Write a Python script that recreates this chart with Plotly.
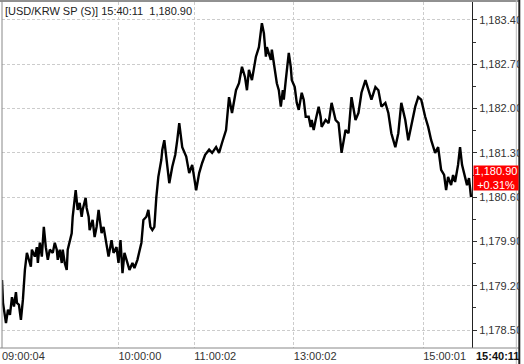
import plotly.graph_objects as go

# bar index (chart position) and price
bar_idx = [2,3,6,8,10,12,14,16,17,19,21,23,25,27,29,31,32,35,37,38,40,42,44,46,48,50,53,55,57,58,
           60,62,63,65,67,68,72,73,76,78,80,82,83,86,87,89,90,93,95,97,99,102,104,107,109,112,114,117,119,121,
           123,125,128,130,133,135,138,142,144,147,149,151,153,155,157,159,162,163,165,167,170,173,176,178,180,183,187,190,193,197,
           200,203,206,210,213,217,220,223,227,230,233,237,240,243,246,248,250,253,255,257,260,263,265,267,268,272,273,275,278,280,
           282,284,285,287,290,292,293,296,298,300,303,305,307,310,312,313,315,317,320,322,323,327,330,333,337,340,343,347,350,353,
           357,360,363,367,370,373,377,380,383,387,390,393,397,400,403,407,410,413,417,420,423,427,430,433,437,440,443,446,448,450,
           453,455,457,460,462,464,467,469,471,473]
price = [1179.29,1178.93,1178.61,1178.82,1178.74,1179.02,1178.87,1179.10,1178.93,1178.90,1178.66,1178.98,1179.45,1179.72,1179.61,1179.50,1179.77,1179.66,1179.81,1179.56,
         1179.88,1179.66,1180.13,1179.81,1179.61,1179.77,1179.72,1179.88,1179.77,1179.61,1179.77,1179.56,1179.77,1179.56,1179.45,1179.77,1180.03,1180.29,1180.71,1180.40,
         1180.51,1180.29,1180.40,1180.59,1180.43,1180.29,1180.08,1180.24,1179.97,1180.13,1180.40,1180.03,1180.13,1179.88,1179.66,1179.92,1179.72,1179.81,1179.56,1179.92,
         1179.40,1179.72,1179.56,1179.45,1179.56,1179.48,1179.61,1179.88,1180.24,1180.29,1180.40,1180.13,1180.08,1180.13,1180.60,1180.92,1181.19,1181.35,1181.50,1181.19,
         1180.82,1181.08,1181.27,1181.50,1181.77,1181.39,1181.24,1180.98,1181.11,1180.71,1180.98,1181.14,1181.27,1181.35,1181.30,1181.39,1181.30,1181.46,1181.66,1182.18,
         1181.93,1182.29,1182.40,1182.66,1182.50,1182.29,1182.61,1182.45,1182.66,1182.82,1182.97,1183.35,1183.19,1182.82,1182.97,1182.77,1182.93,1182.72,1182.40,1182.29,
         1182.03,1182.29,1182.14,1182.45,1182.88,1182.66,1182.45,1182.34,1182.09,1181.98,1182.25,1182.14,1181.87,1181.87,1181.71,1181.82,1181.66,1181.82,1182.03,1181.87,
         1181.71,1181.82,1181.77,1182.09,1181.82,1181.77,1181.30,1181.66,1181.61,1182.18,1181.82,1181.93,1182.25,1182.45,1182.29,1182.14,1182.34,1182.29,1182.03,1182.09,
         1181.93,1181.61,1181.39,1181.61,1182.09,1181.82,1181.50,1181.71,1182.03,1182.18,1182.14,1181.87,1181.71,1181.50,1181.30,1181.39,1181.03,1180.95,1180.71,1180.92,
         1180.79,1180.95,1180.84,1181.11,1181.39,1181.11,1180.92,1180.79,1180.90,1180.60]

x_tick_pos = [2, 119, 195, 295, 425]
x_tick_text = ["09:00:04", "10:00:00", "11:00:02", "13:00:02", "15:00:01"]
y_tick_vals = [1178.50, 1179.20, 1179.90, 1180.60, 1181.30, 1182.00, 1182.70, 1183.40]
y_tick_text = ["1,178.50", "1,179.20", "1,179.90", "1,180.60", "1,181.30", "1,182.00", "1,182.70", "1,183.40"]

title_text = "[USD/KRW SP (S)] 15:40:11  1,180.90"
last_price_text = "1,180.90"
change_text = "+0.31%"
last_time_text = "15:40:11"
last_price = 1180.90

W, H = 524, 364
ML, MR, MT, MB = 2, 50, 2, 16
PW, PH = W - ML - MR, H - MT - MB

def xp(px):
    return (px - ML) / PW

def yp(py):
    return (H - MB - py) / PH

FONT = "Liberation Sans"

fig = go.Figure()
fig.add_trace(go.Scatter(x=bar_idx, y=price, mode="lines",
                         line=dict(color="black", width=2.4), hoverinfo="skip"))

grid = dict(showgrid=True, gridcolor="#cccccc", griddash="3px,2px", gridwidth=1)

fig.update_layout(
    width=W, height=H,
    margin=dict(l=ML, r=MR, t=MT, b=MB),
    paper_bgcolor="white", plot_bgcolor="white",
    showlegend=False,
    font=dict(family=FONT, size=11, color="#333333"),
    xaxis=dict(range=[2, 474], tickmode="array", tickvals=x_tick_pos, ticktext=x_tick_text,
               ticks="", ticklabelposition="outside right", tickfont=dict(size=11, color="#333333"),
               zeroline=False, showline=False, fixedrange=True, **grid),
    yaxis=dict(side="right", range=[1178.216, 1183.684], tickmode="array",
               tickvals=y_tick_vals, ticktext=y_tick_text, ticks="outside", ticklen=4,
               tickcolor="#333333", tickfont=dict(size=11, color="#333333"),
               minor=dict(tickmode="linear", tick0=1178.15, dtick=0.35, ticks="outside", ticklen=3,
                          tickcolor="#333333", showgrid=False),
               showline=True, linecolor="#222222", linewidth=1, zeroline=False, **grid),
)

shapes = [
    dict(type="line", xref="paper", yref="paper", x0=xp(0), x1=xp(522), y0=yp(1), y1=yp(1),
         line=dict(color="#222222", width=1)),
    dict(type="line", xref="paper", yref="paper", x0=xp(2), x1=xp(2), y0=yp(1), y1=yp(348),
         line=dict(color="#888888", width=1)),
    dict(type="line", xref="paper", yref="paper", x0=xp(0), x1=xp(522), y0=yp(348), y1=yp(348),
         line=dict(color="#888888", width=1)),
    dict(type="rect", xref="paper", yref="paper", x0=xp(521), x1=xp(526), y0=yp(-2), y1=yp(366),
         fillcolor="white", line=dict(width=0), layer="above"),
    dict(type="line", xref="paper", yref="paper", x0=xp(521.5), x1=xp(521.5), y0=yp(0), y1=yp(364),
         line=dict(color="#222222", width=2), layer="above"),
    dict(type="line", xref="paper", yref="paper", x0=xp(518.5), x1=xp(518.5), y0=yp(0), y1=yp(364),
         line=dict(color="#bbbbbb", width=1), layer="above"),
]
fig.update_layout(shapes=shapes)

fig.add_annotation(xref="paper", yref="paper", x=xp(3), y=yp(11), xanchor="left", yanchor="middle",
                   text=title_text, showarrow=False, font=dict(size=11, color="#222222"))
fig.add_annotation(xref="paper", yref="y", x=xp(475), y=last_price, xanchor="left", yanchor="middle",
                   text=last_price_text + "<br>" + change_text, showarrow=False, align="center",
                   bgcolor="#ff0000", width=44, height=24, borderpad=0,
                   font=dict(size=11, color="white"))
fig.add_annotation(xref="paper", yref="paper", x=xp(476), y=yp(356), xanchor="left", yanchor="middle",
                   text="<b>" + last_time_text + "</b>", showarrow=False,
                   font=dict(size=11, color="#111111"))

fig.write_html("out.html")
